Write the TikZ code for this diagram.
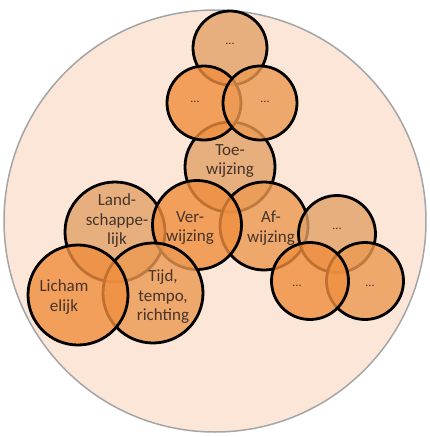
\documentclass[tikz,border=0pt]{standalone}
\usepackage{fontspec}
\setmainfont{Carlito}
\definecolor{peach}{RGB}{251,230,215}
\definecolor{rimgray}{RGB}{165,165,165}
\definecolor{tan}{RGB}{226,160,104}
\definecolor{orng}{RGB}{240,142,62}
\definecolor{medor}{RGB}{237,153,82}
\definecolor{txt}{RGB}{70,52,42}
\tikzset{
  circ/.style={circle, draw=black, line width=2.8pt, fill opacity=0.8, inner sep=0pt},
  lbl/.style={text=txt, font=\fontsize{17}{19.5}\selectfont, align=center, inner sep=0pt},
  dots/.style={text=txt, font=\fontsize{12}{14}\selectfont, inner sep=0pt}
}
\begin{document}
\begin{tikzpicture}[x=1pt,y=-1pt]
\useasboundingbox (0,0) rectangle (429,437);
\node[circle, draw=rimgray, line width=1.5pt, fill=peach, minimum size=422pt, inner sep=0pt] (bg) at (215,221) {};
% top cluster
\node[circ, fill=tan,  minimum size=74pt] (ct) at (230,48) {};
\node[circ, fill=tan,  minimum size=90pt] (toe) at (230,167) {};
\node[circ, fill=orng, minimum size=74pt] (cl) at (204,103) {};
\node[circ, fill=medor,minimum size=74pt] (cr) at (260,103) {};
% left cluster
\node[circ, fill=tan,  minimum size=100pt] (land) at (115,232) {};
\node[circ, fill=medor,minimum size=88pt] (af) at (264,226) {};
\node[circ, fill=orng, minimum size=89pt] (ver) at (197,225) {};
\node[circ, fill=medor,minimum size=100pt] (tijd) at (153,293) {};
\node[circ, fill=orng, minimum size=100pt] (lich) at (78,295) {};
% right cluster
\node[circ, fill=tan,  minimum size=77pt] (rt) at (337,234) {};
\node[circ, fill=medor,minimum size=77pt] (rr) at (365,281) {};
\node[circ, fill=orng, minimum size=77pt] (rl) at (310,281) {};
% texts
\node[dots] (tct) at (230,44) {...};
\node[dots] (tcl) at (195,102) {...};
\node[dots] (tcr) at (265,102) {...};
\node[lbl] (ttoe) at (230,161) {Toe-\\wijzing};
\node[lbl] (tver) at (190,228) {Ver-\\wijzing};
\node[lbl] (taf) at (271,228) {Af-\\wijzing};
\node[lbl] (tland) at (117,221) {Land-\\schappe-\\lijk};
\node[lbl] (tlich) at (64,297) {Licham\\elijk};
\node[lbl] (ttijd) at (163,297) {Tijd,\\tempo,\\richting};
\node[dots] (trt) at (337,229) {...};
\node[dots] (trl) at (297,286) {...};
\node[dots] (trr) at (370,286) {...};
\end{tikzpicture}
\end{document}
